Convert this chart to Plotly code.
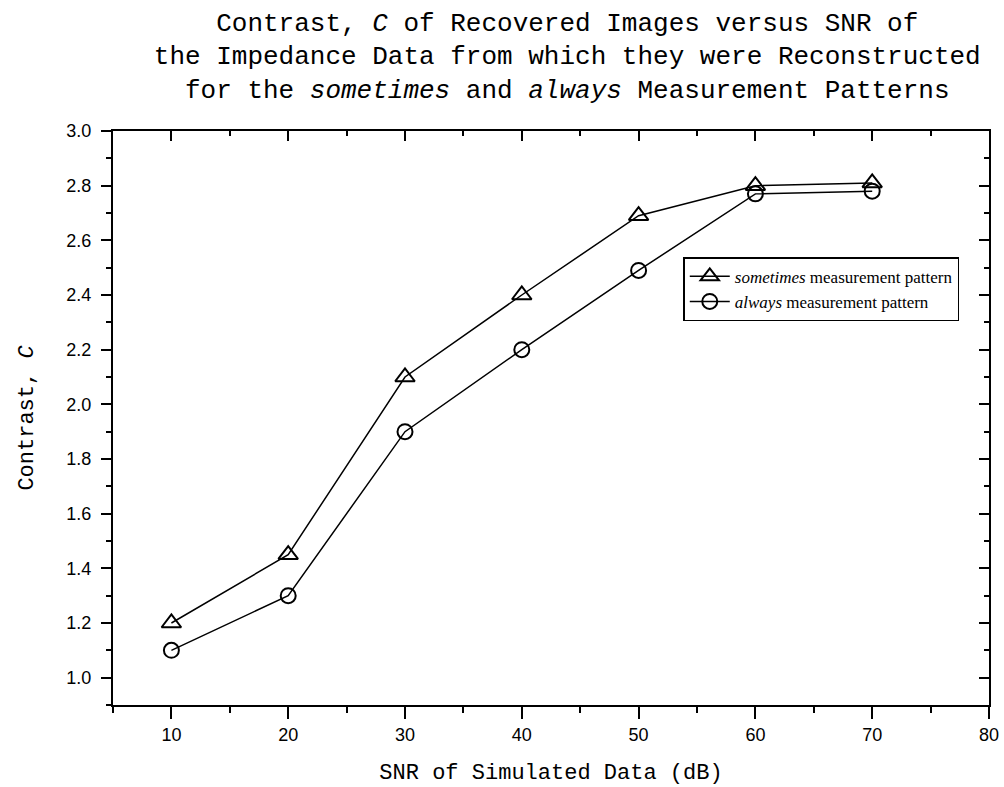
import plotly.graph_objects as go

snr = [10, 20, 30, 40, 50, 60, 70]
sometimes = [1.20, 1.45, 2.10, 2.40, 2.69, 2.80, 2.81]
always = [1.10, 1.30, 1.90, 2.20, 2.49, 2.77, 2.78]

x_range = [5, 80]
y_range = [0.9, 3.0]

mono = "Courier New, Liberation Mono, monospace"
sans = "Arial, Liberation Sans, sans-serif"
serif = "Times New Roman, Liberation Serif, serif"

fig = go.Figure()
fig.add_trace(go.Scatter(
    x=snr, y=sometimes, mode="lines+markers",
    name="<i>sometimes</i> measurement pattern",
    line=dict(color="black", width=1.5),
    marker=dict(symbol="triangle-up-open", size=17, color="black", line=dict(width=2)),
))
fig.add_trace(go.Scatter(
    x=snr, y=always, mode="lines+markers",
    name="<i>always</i> measurement pattern",
    line=dict(color="black", width=1.5),
    marker=dict(symbol="circle-open", size=15, color="black", line=dict(width=2)),
))
# invisible trace for mirrored (inward) top/right axes
fig.add_trace(go.Scatter(x=[x_range[0]], y=[y_range[0]], xaxis="x2", yaxis="y2",
                         mode="markers", marker=dict(opacity=0), showlegend=False,
                         hoverinfo="skip"))

fig.update_layout(
    width=1004, height=787,
    paper_bgcolor="white", plot_bgcolor="white",
    margin=dict(l=113, r=15, t=131, b=82),
    title=dict(
        text="Contrast, <i>C</i> of Recovered Images versus SNR of<br>"
             "the Impedance Data from which they were Reconstructed<br>"
             "for the <i>sometimes</i> and <i>always</i> Measurement Patterns",
        font=dict(family=mono, size=26, color="black"),
        x=0.565, xanchor="center", xref="container",
        y=0.961, yanchor="top", yref="container",
    ),
    xaxis=dict(
        range=x_range, tick0=0, dtick=10, ticks="outside", ticklen=12, tickwidth=2,
        tickcolor="black", showline=True, linecolor="black", linewidth=2,
        showgrid=False, zeroline=False,
        tickfont=dict(family=sans, size=18, color="black"),
        minor=dict(dtick=5, ticks="outside", ticklen=6, tickwidth=2, tickcolor="black", showgrid=False),
        title=dict(text="SNR of Simulated Data (dB)", font=dict(family=mono, size=22, color="black"),
                   standoff=20),
        automargin=False,
    ),
    yaxis=dict(
        range=y_range, tick0=1.0, dtick=0.2, tickformat=".1f", ticks="outside", ticklen=10,
        tickwidth=2, tickcolor="black", showline=True, linecolor="black", linewidth=2,
        showgrid=False, zeroline=False,
        tickfont=dict(family=sans, size=18, color="black"),
        minor=dict(dtick=0.1, tick0=0.9, ticks="outside", ticklen=5, tickwidth=2, tickcolor="black", showgrid=False),
        title=dict(text="Contrast, <i>C</i>", font=dict(family=mono, size=22, color="black"),
                   standoff=27),
        ticklabelstandoff=6,
        automargin=False,
    ),
    xaxis2=dict(
        range=x_range, overlaying="x", side="top", anchor="y2", tick0=0, dtick=10,
        ticks="inside", ticklen=10, tickwidth=2, tickcolor="black",
        showline=True, linecolor="black", linewidth=2, showgrid=False, zeroline=False,
        showticklabels=False,
        minor=dict(dtick=5, ticks="inside", ticklen=5, tickwidth=2, tickcolor="black", showgrid=False),
    ),
    yaxis2=dict(
        range=y_range, overlaying="y", side="right", anchor="x2", tick0=1.0, dtick=0.2,
        ticks="inside", ticklen=10, tickwidth=2, tickcolor="black",
        showline=True, linecolor="black", linewidth=2, showgrid=False, zeroline=False,
        showticklabels=False,
        minor=dict(dtick=0.1, tick0=0.9, ticks="inside", ticklen=5, tickwidth=2, tickcolor="black", showgrid=False),
    ),
    legend=dict(
        x=0.651, y=0.78, xanchor="left", yanchor="top",
        bgcolor="white", bordercolor="black", borderwidth=1.5,
        font=dict(family=serif, size=17, color="black"),
        itemwidth=40, tracegroupgap=0,
    ),
    showlegend=True,
)

fig.write_html("out.html")
